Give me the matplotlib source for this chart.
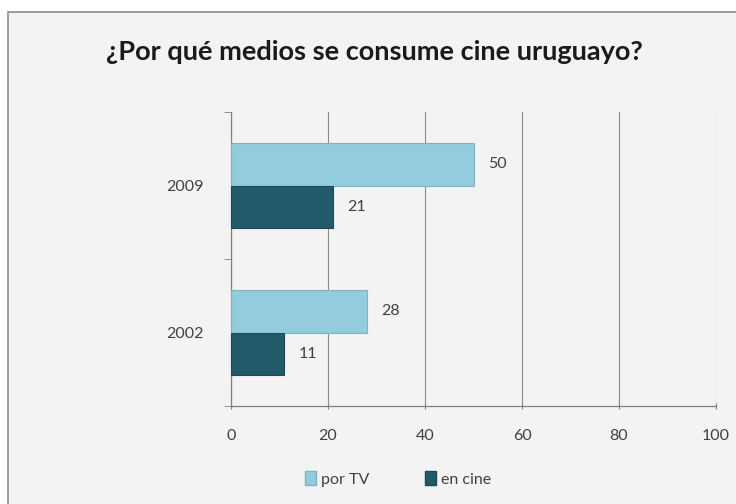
import matplotlib
matplotlib.use("Agg")
import matplotlib.pyplot as plt
from matplotlib.patches import Rectangle, Patch
import numpy as np

plt.rcParams['font.family'] = ['Lato', 'DejaVu Sans']

title = "¿Por qué medios se consume cine uruguayo?"
years = ["2002", "2009"]
por_tv = [28, 50]
en_cine = [11, 21]
series_names = ["por TV", "en cine"]
xticks = [0, 20, 40, 60, 80, 100]

c_tv = "#93cddd"
c_cine = "#235a69"
bg = "#f3f3f3"

fig = plt.figure(figsize=(7.36, 5.04), dpi=100)
fig.patch.set_facecolor("white")

# chart frame
fig.patches.append(Rectangle((8 / 736, -0.05), 1.1, 0.976 + 0.05,
                             transform=fig.transFigure, facecolor=bg,
                             edgecolor="#8c8c8c", linewidth=1.2, zorder=-10))

ax = fig.add_axes([231 / 736, 1 - 406 / 504, (716 - 231) / 736, (406 - 112) / 504])
ax.set_facecolor("none")
ax.set_zorder(5)

y = np.arange(len(years))
h = 0.286
b1 = ax.barh(y + h / 2, por_tv, height=h, color=c_tv, edgecolor="#7fb3c2", linewidth=0.8, zorder=3)
b2 = ax.barh(y - h / 2, en_cine, height=h, color=c_cine, edgecolor="#1c4a57", linewidth=0.8, zorder=3)

for bars, vals in ((b1, por_tv), (b2, en_cine)):
    for bar, v in zip(bars, vals):
        ax.text(v + 3, bar.get_y() + bar.get_height() / 2, f"{v}",
                va="center", ha="left", fontsize=11.5, color="#404040")

ax.set_xlim(0, 100)
ax.set_ylim(-0.5, 1.5)
ax.set_xticks(xticks)
ax.set_xticklabels([str(t) for t in xticks], fontsize=11.5, color="#404040")
ax.set_yticks(y)
ax.set_yticklabels(years, fontsize=11.5, color="#404040")
ax.set_yticks([-0.5, 0.5, 1.5], minor=True)
ax.tick_params(axis="y", which="major", length=0, pad=20)
ax.tick_params(axis="y", which="minor", length=5, color="#808080", direction="out")
ax.tick_params(axis="x", length=5, color="#808080", direction="inout", pad=14)

ax.grid(axis="x", color="#8c8c8c", linewidth=0.8, zorder=0)
for s in ("top", "right"):
    ax.spines[s].set_visible(False)
for s in ("left", "bottom"):
    ax.spines[s].set_color("#808080")
    ax.spines[s].set_linewidth(0.9)

fig.text(374 / 736, 1 - 52 / 504, title, ha="center", va="center",
         fontsize=19.5, fontweight="bold", color="#1a1a1a")

handles = [Patch(facecolor=c_tv, edgecolor="#7fb3c2"), Patch(facecolor=c_cine, edgecolor="#1c4a57")]
fig.legend(handles, series_names, loc="center", bbox_to_anchor=(398 / 736, 1 - 479 / 504),
           ncol=2, frameon=False, fontsize=11.5, handlelength=0.7, handleheight=1.0,
           handletextpad=0.3, columnspacing=3.5, labelcolor="#404040")

fig.savefig("out.png", dpi=100, facecolor=fig.get_facecolor())
